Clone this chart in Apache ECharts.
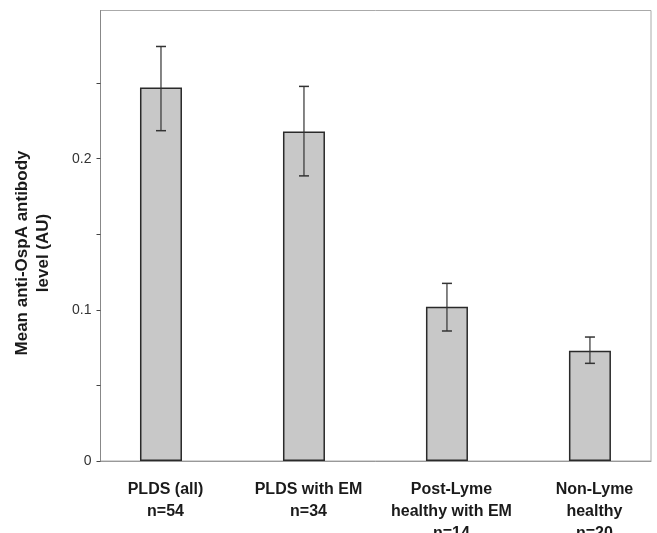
<!DOCTYPE html>
<html><head><meta charset="utf-8">
<script src="https://cdn.jsdelivr.net/npm/echarts@6/dist/echarts.min.js"></script>
<style>html,body{margin:0;padding:0;background:#fff}#c{width:657px;height:533px}</style>
</head><body><div id="c"></div>
<script>
var categories = ['PLDS (all)', 'PLDS with EM', 'Post-Lyme\nhealthy with EM', 'Non-Lyme\nhealthy'];
var nLabels = ['n=54', 'n=34', 'n=14', 'n=20'];
var means = [0.247, 0.218, 0.102, 0.073];
var errLow = [0.2185, 0.1886, 0.0860, 0.0646];
var errHigh = [0.2742, 0.2478, 0.1175, 0.0820];
var yTicks = [0, 0.05, 0.1, 0.15, 0.2, 0.25];
var yLabels = [0, 0.1, 0.2];

var positions = categories.map(function (_, i) { return i; });
var chart = echarts.init(document.getElementById('c'), null, {renderer: 'canvas'});
chart.setOption({
  animation: false,
  grid: {left: 100.5, right: 6, top: 10.5, bottom: 72, show: true, borderColor: '#aaa', borderWidth: 1,
         backgroundColor: 'transparent', containLabel: false, outerBoundsMode: 'none'},
  xAxis: {
    type: 'value', min: -0.423, max: 3.427,
    splitLine: {show: false},
    axisLine: {show: true, onZero: false, lineStyle: {color: '#999', width: 1}},
    axisTick: {show: false},
    axisLabel: {
      customValues: positions, margin: 18, lineHeight: 22,
      padding: [0, 0, 0, 9],
      fontFamily: 'Liberation Sans, Arial, sans-serif', fontWeight: 'bold', fontSize: 16, color: '#1a1a1a',
      formatter: function (v) { var i = Math.round(v); return categories[i] + '\n' + nLabels[i]; }
    }
  },
  yAxis: {
    type: 'value', min: 0, max: 0.298, interval: 0.05,
    splitLine: {show: false},
    axisLine: {show: true, onZero: false, lineStyle: {color: '#888', width: 1}},
    axisTick: {show: true, customValues: yTicks, length: 4, lineStyle: {color: '#444'}},
    axisLabel: {
      customValues: yLabels, margin: 9,
      fontFamily: 'Liberation Sans, Arial, sans-serif', fontSize: 14, color: '#333',
      formatter: function (v) { return String(Math.round(v * 10) / 10); }
    }
  },
  graphic: [{
    type: 'text', x: 33, y: 253, rotation: Math.PI / 2,
    style: {
      text: 'Mean anti-OspA antibody\nlevel (AU)', align: 'center', verticalAlign: 'middle',
      font: 'bold 17px "Liberation Sans", Arial, sans-serif', fill: '#1a1a1a', lineHeight: 21
    }
  }],
  series: [{
    type: 'bar', barWidth: 42,
    data: means.map(function (v, i) { return [positions[i], v]; }),
    itemStyle: {color: '#c8c8c8', borderColor: '#2a2a2a', borderWidth: 1.5}
  }, {
    type: 'custom',
    data: means.map(function (v, i) { return [positions[i], errLow[i], errHigh[i]]; }),
    renderItem: function (params, api) {
      var x = api.value(0);
      var lo = api.coord([x, api.value(1)]);
      var hi = api.coord([x, api.value(2)]);
      var cap = 5;
      var st = {stroke: '#333', lineWidth: 1.2};
      return {type: 'group', children: [
        {type: 'line', shape: {x1: lo[0], y1: lo[1], x2: hi[0], y2: hi[1]}, style: st},
        {type: 'line', shape: {x1: lo[0] - cap, y1: lo[1], x2: lo[0] + cap, y2: lo[1]}, style: {stroke: '#333', lineWidth: 1.5}},
        {type: 'line', shape: {x1: hi[0] - cap, y1: hi[1], x2: hi[0] + cap, y2: hi[1]}, style: {stroke: '#333', lineWidth: 1.5}}
      ]};
    },
    z: 5
  }]
});
</script></body></html>
